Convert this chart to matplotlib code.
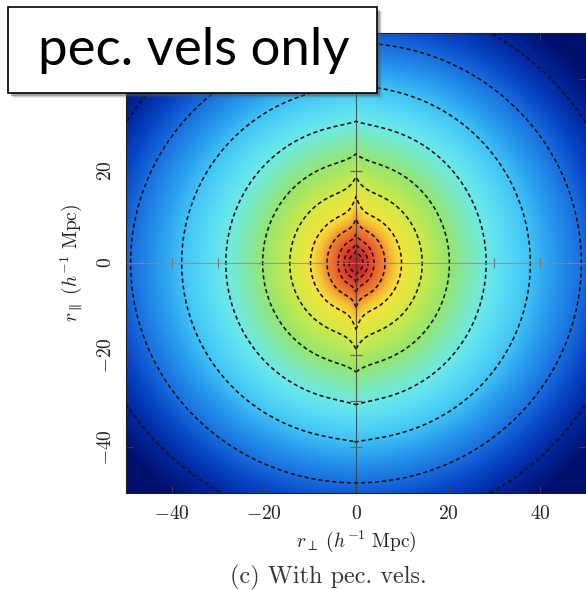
import numpy as np
import matplotlib
matplotlib.use('Agg')
import matplotlib.pyplot as plt
from matplotlib.colors import LinearSegmentedColormap, Normalize
from matplotlib.patches import Rectangle
from matplotlib.ticker import MultipleLocator, FuncFormatter

plt.rcParams['mathtext.fontset'] = 'cm'

# contours, outermost first (h^-1 Mpc)
cont_perp = [59.0, 49.0, 37.9, 28.3, 20.3, 14.4, 9.9, 6.3, 3.9, 2.6, 1.5]    # where they cross r_par = 0
cont_tip = [57.5, 47.8, 38.9, 30.8, 23.7, 18.7, 14.5, 9.6, 6.3, 4.2, 2.6]    # cusp tip on r_perp = 0
cont_base = [57.5, 47.8, 38.2, 29.9, 22.0, 15.6, 10.8, 7.4, 5.0, 3.3, 2.0]   # shoulder beside the cusp

# colour seen at each contour level (level 0 = outermost contour)
level_pos = [-0.6, 0, 0.5, 1, 1.5, 2, 2.5, 3, 4, 5, 6, 6.5, 7, 8, 9, 10, 11.3]
level_rgb = [(0, 15, 110), (0, 40, 160), (8, 72, 200), (25, 112, 222),
             (40, 155, 238), (65, 195, 245), (88, 220, 245), (110, 234, 228),
             (150, 230, 110), (208, 234, 70), (246, 226, 58), (247, 188, 52),
             (240, 135, 48), (230, 85, 44), (220, 56, 42), (210, 44, 40),
             (196, 32, 34)]

# little marks on the zero lines
marks_perp = [-40, -30, 30, 40]
marks_par = [-40, -30, -20, 20, 40]

# build the field whose level sets are the contours above
n = 601
g = np.linspace(-50, 50, n)
X, Y = np.meshgrid(g, g)
R = np.maximum(np.hypot(X, Y), 1e-3)
phi = np.arctan2(np.abs(Y), np.abs(X))
dphi = np.pi / 2 - phi
a = np.array(cont_perp)[:, None, None]
bb = np.array(cont_base)[:, None, None]
bt = np.array(cont_tip)[:, None, None]
ell = 1 / np.sqrt((np.cos(phi) / a) ** 2 + (np.sin(phi) / bb) ** 2)
Rk = ell + (bt - bb) * np.exp(-dphi / 0.09)

lr = np.log(R)
lk = np.log(Rk)
K = len(cont_perp)
c = np.sum(lr[None] < lk, axis=0)
i0 = np.clip(c - 1, 0, K - 2)
l0 = np.take_along_axis(lk, i0[None], 0)[0]
l1 = np.take_along_axis(lk, (i0 + 1)[None], 0)[0]
L = i0 + (l0 - lr) / (l0 - l1)
L = np.clip(L, level_pos[0], level_pos[-1])

lo, hi = level_pos[0], level_pos[-1]
cmap = LinearSegmentedColormap.from_list(
    'xi', [((p - lo) / (hi - lo), tuple(v / 255 for v in col))
           for p, col in zip(level_pos, level_rgb)])

fig = plt.figure(figsize=(5.86, 5.90), dpi=100)
ax = fig.add_axes([126 / 586, 97 / 590, 460 / 586, 460 / 590])

ax.imshow(L, extent=[-50, 50, -50, 50], origin='lower', cmap=cmap,
          norm=Normalize(lo, hi), interpolation='bilinear', aspect='auto')
ax.contour(X, Y, L, levels=np.arange(K), colors='#111111', linewidths=1.15,
           linestyles=[(0, (2.6, 1.8))])

ax.axhline(0, color='#8a8a8a', lw=0.8, alpha=0.8)
ax.axvline(0, color='#3a3a3a', lw=0.8, alpha=0.8)
ax.plot(marks_perp, np.zeros(len(marks_perp)), ls='none', marker='|',
        ms=7, mew=0.8, color='#777777')
ax.plot(np.zeros(len(marks_par)), marks_par, ls='none', marker='_',
        ms=9, mew=0.9, color='#666666')

ax.set_xlim(-50, 50)
ax.set_ylim(-50, 50)
ax.set_xticks([-40, -20, 0, 20, 40])
ax.set_yticks([-40, -20, 0, 20, 40])
ax.xaxis.set_minor_locator(MultipleLocator(10))
ax.yaxis.set_minor_locator(MultipleLocator(10))
ax.xaxis.set_major_formatter(FuncFormatter(lambda v, p: f'${v:g}$'))
# the +40 label sits under the label box
ax.yaxis.set_major_formatter(FuncFormatter(lambda v, p: '' if v > 30 else f'${v:g}$'))
ax.tick_params(which='both', direction='in', top=True, right=True,
               color='#444444', labelsize=14, labelcolor='#222222')
ax.tick_params(which='major', length=5, width=0.6)
ax.tick_params(which='minor', length=2.5, width=0.5)
ax.tick_params(axis='x', pad=8)
ax.tick_params(axis='y', pad=8, labelrotation=90)
for lab in ax.get_yticklabels():
    lab.set_va('center')
for s in ax.spines.values():
    s.set_linewidth(0.8)
    s.set_color('#222222')

ax.set_xlabel(r'$r_\perp\ (h^{-1}\ \mathrm{Mpc})$', fontsize=14,
              color='#222222', labelpad=4)
ax.set_ylabel(r'$r_\parallel\ (h^{-1}\ \mathrm{Mpc})$', fontsize=14,
              color='#222222', labelpad=8)

fig.text(328 / 586, 1 - 577 / 590, '(c) With pec. vels.', family='cmr10',
         fontsize=17.5, ha='center', va='center', color='#3a3530')

# label box with its drop shadow
bx0, by0, bx1, by1 = 8, 7, 377, 93
for k, al in [(5, 0.12), (4, 0.2), (3, 0.35)]:
    fig.add_artist(Rectangle((bx0 / 586 + k / 586, 1 - by1 / 590 - k / 590),
                             (bx1 - bx0) / 586, (by1 - by0) / 590,
                             transform=fig.transFigure, facecolor='#555555',
                             edgecolor='none', alpha=al, zorder=19))
fig.add_artist(Rectangle((bx0 / 586, 1 - by1 / 590), (bx1 - bx0) / 586,
                         (by1 - by0) / 590, transform=fig.transFigure,
                         facecolor='white', edgecolor='black', lw=1.2, zorder=20))
fig.text(194 / 586, 1 - 51 / 590, 'pec. vels only', family='Lato', fontsize=38,
         ha='center', va='center', color='black', zorder=21)

fig.savefig('out.png', dpi=100)
